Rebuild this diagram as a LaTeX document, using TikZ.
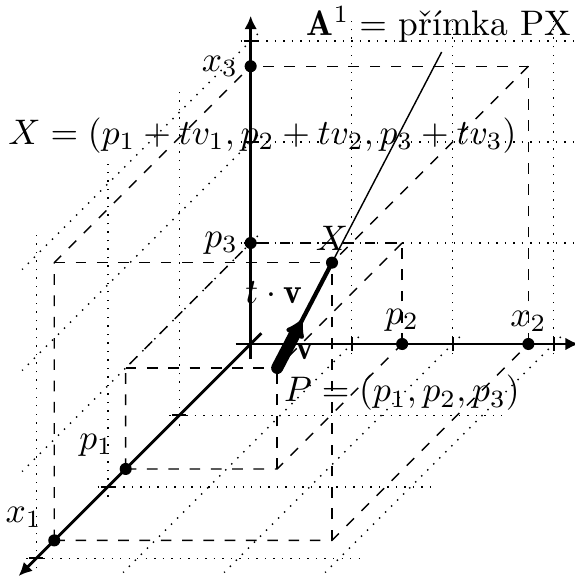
\documentclass[tikz,border=0pt]{standalone}
\usepackage{amsmath}
\usepackage{fontspec}
\usetikzlibrary{arrows.meta}
\begin{document}
\begin{tikzpicture}[
  x={(-0.7071cm,-0.7071cm)}, y={(1cm,0cm)}, z={(0cm,1cm)},
  axisline/.style={thick, -{Latex[length=3.8pt,width=3.6pt]}},
  gridline/.style={dotted},
  boxline/.style={dashed},
  tickline/.style={semithick},
  dotnode/.style={circle, fill, inner sep=0pt, minimum size=3.4pt},
  textlabel/.style={inner sep=0pt, anchor=base},
]
\useasboundingbox (-2.482cm,-2.327cm) rectangle (3.211cm,3.406cm);

% dotted grid in the three coordinate planes
\foreach \k in {1,2,3} {
  \draw[gridline] (0,\k,-0.1) -- (0,\k,3.2);
  \draw[gridline] (0,-0.1,\k) -- (0,3.2,\k);
  \draw[gridline] (\k,0,-0.1) -- (\k,0,3.2);
  \draw[gridline] (-0.1,0,\k) -- (3.2,0,\k);
  \draw[gridline] (\k,-0.1,0) -- (\k,3.2,0);
  \draw[gridline] (-0.1,\k,0) -- (3.2,\k,0);
}

% axes
\coordinate (a1s) at (-0.15,0,0); \coordinate (a1e) at (3.25,0,0);
\coordinate (a2s) at (0,-0.15,0); \coordinate (a2e) at (0,3.25,0);
\coordinate (a3s) at (0,0,-0.15); \coordinate (a3e) at (0,0,3.25);
\draw[axisline] (a1s) -- (a1e);
\draw[axisline] (a2s) -- (a2e);
\draw[axisline] (a3s) -- (a3e);
\foreach \k in {1,2,3} {
  \draw[tickline] (\k,-0.07,0) -- (\k,0.07,0);
  \draw[tickline] (0,\k,-0.07) -- (0,\k,0.07);
  \draw[tickline] (0,-0.07,\k) -- (0,0.07,\k);
}

% point P and its box
\coordinate (P) at (1.75,1.5,1);
\coordinate (P12) at (1.75,1.5,0);
\coordinate (P13) at (1.75,0,1);
\coordinate (P23) at (0,1.5,1);
\node[dotnode] (p1) at (1.75,0,0) {};
\node[dotnode] (p2) at (0,1.5,0) {};
\node[dotnode] (p3) at (0,0,1) {};
\draw[boxline] (p1.center) -- (P12) -- (p2.center);
\draw[boxline] (p1.center) -- (P13) -- (p3.center);
\draw[boxline] (p2.center) -- (P23) -- (p3.center);
\draw[boxline] (P12) -- (P);
\draw[boxline] (P13) -- (P);
\draw[boxline] (P23) -- (P);

% point X and its box
\coordinate (X12) at (2.75,2.75,0);
\coordinate (X13) at (2.75,0,2.75);
\coordinate (X23) at (0,2.75,2.75);
\node[dotnode] (x1) at (2.75,0,0) {};
\node[dotnode] (x2) at (0,2.75,0) {};
\node[dotnode] (x3) at (0,0,2.75) {};
\node[dotnode] (X) at (2.75,2.75,2.75) {};
\draw[boxline] (x1.center) -- (X12) -- (x2.center);
\draw[boxline] (x1.center) -- (X13) -- (x3.center);
\draw[boxline] (x2.center) -- (X23) -- (x3.center);
\draw[boxline] (X12) -- (X.center);
\draw[boxline] (X13) -- (X.center);
\draw[boxline] (X23) -- (X.center);

% line PX, vector t v and vector v
\coordinate (Aend) at (4.75,5.25,6.25);
\coordinate (V) at (2.2,2.0625,1.7875);
\draw[thin] (P) -- (Aend);
\draw[very thick] (P) -- (X.center);
\draw[line width=3.4pt, line cap=round, -{Latex[round,length=5.5pt,width=7pt]}] (P) -- (V);

% axis point labels
\node[left] (lx3) at (x3) {$x_3$};
\node[left] (lp3) at (p3) {$p_3$};
\node[above] (lp2) at (p2) {$p_2$};
\node[above] (lx2) at (x2) {$x_2$};
\node[above left] (lp1) at (p1) {$p_1$};
\node[above left] (lx1) at (x1) {$x_1$};
\node[above] (lX) at (X) {$X$};

% texts
\node[textlabel] (lA) at (1.864cm,3.059cm) {$\mathbf{A}^1 = $ přímka PX};
\node[textlabel] (lXeq) at (0.117cm,1.98cm) {$X = (p_1 + tv_1, p_2 + tv_2, p_3 + tv_3)$};
\node[textlabel] (lP) at (1.498cm,-0.574cm) {$P = (p_1, p_2, p_3)$};
\node[textlabel] (ltv) at (0.23cm,0.396cm) {$t \cdot \mathbf{v}$};
\node[textlabel] (lv) at (0.54cm,-0.158cm) {$\mathbf{v}$};
\end{tikzpicture}
\end{document}
